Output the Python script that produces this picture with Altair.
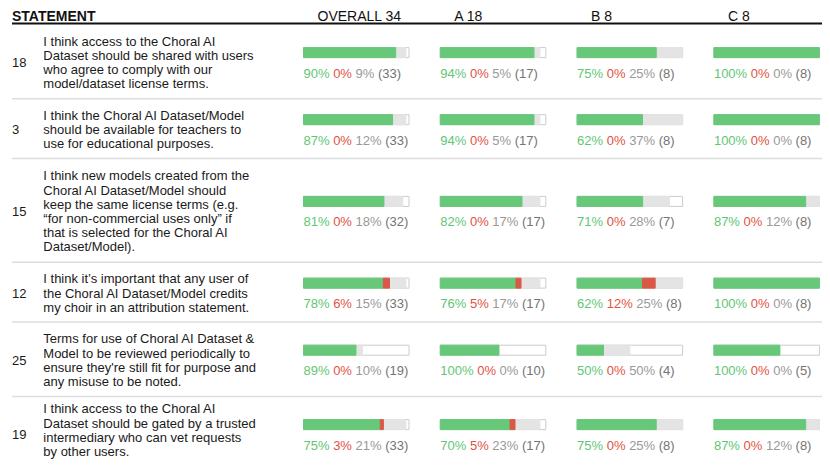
import altair as alt
import pandas as pd

# ---------------- data ----------------
ids = [18, 3, 15, 12, 25, 19]
statements = [
    ["I think access to the Choral AI", "Dataset should be shared with users",
     "who agree to comply with our", "model/dataset license terms."],
    ["I think the Choral AI Dataset/Model", "should be available for teachers to",
     "use for educational purposes."],
    ["I think new models created from the", "Choral AI Dataset/Model should",
     "keep the same license terms (e.g.", "\u201cfor non-commercial uses only\u201d if",
     "that is selected for the Choral AI", "Dataset/Model)."],
    ["I think it\u2019s important that any user of", "the Choral AI Dataset/Model credits",
     "my choir in an attribution statement."],
    ["Terms for use of Choral AI Dataset &", "Model to be reviewed periodically to",
     "ensure they're still fit for purpose and", "any misuse to be noted."],
    ["I think access to the Choral AI", "Dataset should be gated by a trusted",
     "intermediary who can vet requests", "by other users."],
]
groups = ["OVERALL", "A", "B", "C"]
group_n = [34, 18, 8, 8]
agree = [[90, 94, 75, 100], [87, 94, 62, 100], [81, 82, 71, 87],
         [78, 76, 62, 100], [89, 100, 50, 100], [75, 70, 75, 87]]
disagree = [[0, 0, 0, 0], [0, 0, 0, 0], [0, 0, 0, 0],
            [6, 5, 12, 0], [0, 0, 0, 0], [3, 5, 0, 0]]
neutral = [[9, 5, 25, 0], [12, 5, 37, 0], [18, 17, 28, 12],
           [15, 17, 25, 0], [10, 0, 50, 0], [21, 23, 25, 12]]
answered = [[33, 17, 8, 8], [33, 17, 8, 8], [32, 17, 7, 8],
            [33, 17, 8, 8], [19, 10, 4, 5], [33, 17, 8, 8]]

# ---------------- layout ----------------
W, H = 814, 451
FONT = "Liberation Sans"
FS = 13
HEADER_BASE = 20.7
HEADER_LINE_Y = 23.6
ROW_TOP = 24.4
ROW_LINE = 14.7
ROW_PAD = 15.6
TEXT_LINE = 14.2
TEXT_SHIFT = 1.4
TEXT_LIMIT = 8 + H - 7.0   # keep the lowest text line inside the view
ID_X = 12
STMT_X = 43.3
COL_X0 = 303.5
COL_STEP = 136.8
BAR_W = 105.5
BAR_H = 10

GREEN = "#66c878"
RED = "#d95846"
GRAY = "#e4e4e4"
T_GREEN = "#62c675"
T_RED = "#df5343"
T_GRAY = "#999999"
T_COUNT = "#747474"

CW = {"%": 0.889, " ": 0.278, "(": 0.333, ")": 0.333}


def tw(s, size=FS):
    return sum(CW.get(c, 0.556) for c in s) * size


header_bold, header, rules, idrows, lines, rects, labels = [], [], [], [], [], [], []

header_bold.append({"text": "STATEMENT", "x": ID_X, "y": HEADER_BASE})
for j, g in enumerate(groups):
    header.append({"text": f"{g} {group_n[j]}", "x": COL_X0 + j * COL_STEP + 14,
                   "y": HEADER_BASE})

rules.append({"x": ID_X, "x2": W + 8, "y": HEADER_LINE_Y, "c": "#111111", "sw": 2})

top = ROW_TOP
for i, rid in enumerate(ids):
    n = len(statements[i])
    h = ROW_LINE * n + ROW_PAD
    mid = top + h / 2
    ys_txt = [mid + TEXT_SHIFT + (k - (n - 1) / 2) * TEXT_LINE for k in range(n)]
    lift = max(0.0, ys_txt[-1] - TEXT_LIMIT)
    ys_txt = [v - lift for v in ys_txt]
    idrows.append({"text": str(rid), "x": ID_X, "y": mid + TEXT_SHIFT})
    for k, ln in enumerate(statements[i]):
        lines.append({"text": ln, "x": STMT_X, "y": ys_txt[k]})
    for j in range(len(groups)):
        x0 = COL_X0 + j * COL_STEP
        frac = answered[i][j] / group_n[j]
        a = agree[i][j] / 100 * frac
        d = disagree[i][j] / 100 * frac
        yb0, yb1 = mid - 14, mid - 14 + BAR_H
        rects.append({"x": x0, "x2": x0 + BAR_W, "y": yb0, "y2": yb1,
                      "fill": "#ffffff", "stroke": "#cccccc", "o": 0})
        rects.append({"x": x0, "x2": x0 + frac * BAR_W, "y": yb0, "y2": yb1,
                      "fill": GRAY, "stroke": GRAY, "o": 1})
        if a > 0:
            rects.append({"x": x0, "x2": x0 + a * BAR_W, "y": yb0, "y2": yb1,
                          "fill": GREEN, "stroke": GREEN, "o": 2})
        if d > 0:
            rects.append({"x": x0 + a * BAR_W, "x2": x0 + (a + d) * BAR_W, "y": yb0,
                          "y2": yb1, "fill": RED, "stroke": RED, "o": 3})
        parts = [(f"{agree[i][j]}%", T_GREEN), (f"{disagree[i][j]}%", T_RED),
                 (f"{neutral[i][j]}%", T_GRAY), (f"({answered[i][j]})", T_COUNT)]
        xx = x0
        for txt, col in parts:
            labels.append({"text": txt, "x": xx, "y": mid + 12, "c": col})
            xx += tw(txt + " ")
    bottom = top + h
    if bottom < H + 8:
        rules.append({"x": ID_X, "x2": W + 8, "y": bottom, "c": "#dddddd", "sw": 1.5})
    top = bottom

xs = alt.Scale(domain=[8, 8 + W], nice=False, zero=False)
ys = alt.Scale(domain=[8, 8 + H], nice=False, zero=False, reverse=True)


def X(f="x"):
    return alt.X(f"{f}:Q", scale=xs, axis=None)


def Y(f="y"):
    return alt.Y(f"{f}:Q", scale=ys, axis=None)


hdr_b = alt.Chart(pd.DataFrame(header_bold)).mark_text(
    align="left", baseline="alphabetic", font=FONT, fontSize=14, fontWeight="bold",
    color="#111111"
).encode(x=X(), y=Y(), text="text:N")

hdr = alt.Chart(pd.DataFrame(header)).mark_text(
    align="left", baseline="alphabetic", font=FONT, fontSize=14, color="#111111"
).encode(x=X(), y=Y(), text="text:N")

rule_layer = alt.Chart(pd.DataFrame(rules)).mark_rule().encode(
    x=X(), x2="x2:Q", y=Y(),
    color=alt.Color("c:N", scale=None, legend=None),
    strokeWidth=alt.StrokeWidth("sw:Q", scale=None, legend=None))

id_layer = alt.Chart(pd.DataFrame(idrows)).mark_text(
    align="left", baseline="middle", font=FONT, fontSize=FS, color="#1a1a1a"
).encode(x=X(), y=Y(), text="text:N")

stmt_layer = alt.Chart(pd.DataFrame(lines)).mark_text(
    align="left", baseline="middle", font=FONT, fontSize=FS, color="#1a1a1a"
).encode(x=X(), y=Y(), text="text:N")

bar_layer = alt.Chart(pd.DataFrame(rects)).mark_rect(strokeWidth=1).encode(
    x=X(), x2="x2:Q", y=Y(), y2="y2:Q",
    fill=alt.Fill("fill:N", scale=None, legend=None),
    stroke=alt.Stroke("stroke:N", scale=None, legend=None),
    order=alt.Order("o:Q"))

lab_layer = alt.Chart(pd.DataFrame(labels)).mark_text(
    align="left", baseline="middle", font=FONT, fontSize=FS
).encode(x=X(), y=Y(), text="text:N",
         color=alt.Color("c:N", scale=None, legend=None))

chart = alt.layer(rule_layer, hdr_b, hdr, id_layer, stmt_layer, bar_layer, lab_layer).properties(
    width=W, height=H, padding=0, autosize=alt.AutoSizeParams(type="none"),
    background="white"
).configure_view(stroke=None)

chart.save("out.html", embed_options={"renderer": "svg", "actions": False})
